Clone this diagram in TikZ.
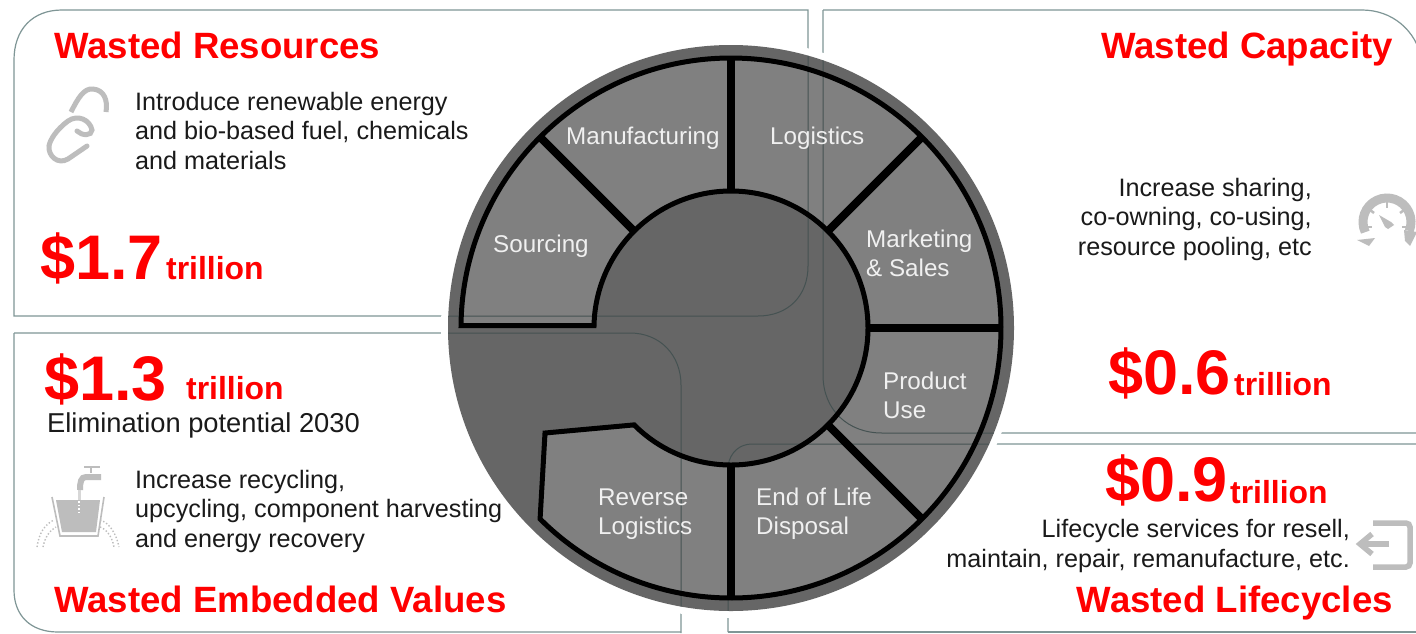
\documentclass[tikz,border=0pt]{standalone}
\usepackage{fontspec}
\setmainfont{Liberation Sans}
\definecolor{panelline}{HTML}{7F9696}
\definecolor{panelinner}{HTML}{455252}
\definecolor{wheeldark}{HTML}{666666}
\definecolor{wheelseg}{HTML}{808080}
\definecolor{icongray}{HTML}{BDBDBD}
\definecolor{headred}{HTML}{FF0000}
\definecolor{bodyink}{HTML}{1A1A1A}
\newcommand{\fsz}[2]{\fontsize{#1pt}{#2pt}\selectfont}
\newcommand{\panelpaths}[1]{%
\draw[#1] (14,316) -- (14,60) .. controls (14,30) and (32,10) .. (62,10) -- (808,10) -- (808,266) .. controls (808,296) and (788,316) .. (758,316) -- cycle;
\draw[#1] (823,10) -- (1362,10) .. controls (1392,10) and (1416,30) .. (1422,60);
\draw[#1] (823,10) -- (823,375) .. controls (823,410) and (848,433) .. (882,433) -- (1416,433);
\draw[#1] (14,333) -- (630,333) .. controls (660,333) and (681,355) .. (681,385) -- (681,633);
\draw[#1] (14,333) -- (14,590) .. controls (14,615) and (30,632) .. (58,632) -- (681,632);
\draw[#1] (728,632) -- (728,466) .. controls (730,452) and (740,444) .. (752,444) -- (1416,444);
\draw[#1] (728,632) -- (1416,632);
}
\tikzset{
 panel/.style={draw=panelline,line width=1.2pt},
 panelin/.style={draw=panelinner,line width=1pt},
 head/.style={inner sep=0,text=headred,font=\fsz{36.6}{40}\bfseries},
 amount/.style={inner sep=0,text=headred,font=\fsz{63}{66}\bfseries},
 unitword/.style={inner sep=0,text=headred,font=\fsz{31.9}{34}\bfseries},
 body/.style={inner sep=0,text=bodyink,font=\fsz{25.2}{29.5}},
 seglabel/.style={inner sep=0,text=white!94!black,font=\fsz{24.2}{28.5},align=left,anchor=base west},
 spoke/.style={draw=black,line width=8pt},
 icon/.style={draw=icongray,line width=5pt}
}
\begin{document}
\begin{tikzpicture}[x=1pt,y=-1pt]
\useasboundingbox (0,0) rectangle (1416,633);
\clip (0,0) rectangle (1416,633);
\fill[white] (0,0) rectangle (1416,633);
\panelpaths{panel}
% wheel fill
\begin{scope}[shift={(731,328)},yscale=-1]
\fill[white] (0,0) circle[radius=290];
\fill[wheeldark] (0,0) circle[radius=283];
\path[fill=wheelseg]
  (179.5:270) arc[start angle=179.5,end angle=-135,radius=270]
  -- (-186,-105) -- (225:137)
  arc[start angle=-135,end angle=179,radius=137] -- cycle;
\end{scope}
% panel lines seen through the wheel
\begin{scope}
\clip (731,328) circle[radius=283];
\panelpaths{panelin}
\end{scope}
% wheel strokes
\begin{scope}[shift={(731,328)},yscale=-1]
\path[draw=black,line width=5pt,miter limit=6]
  (179.5:270) arc[start angle=179.5,end angle=-135,radius=270]
  -- (-186,-105) -- (225:137)
  arc[start angle=-135,end angle=179,radius=137] -- cycle;
\foreach \a in {135,90,45,0,-45,-90}
  \draw[spoke] (\a:137) -- (\a:270);
\end{scope}
% wheel labels
\node[seglabel] (manu) at (566,144) {Manufacturing};
\node[seglabel] (logi) at (770,144) {Logistics};
\node[seglabel] (sour) at (493,252) {Sourcing};
\node[seglabel] (mark) at (866,276) {Marketing\\\& Sales};
\node[seglabel] (prod) at (883,418) {Product\\Use};
\node[seglabel] (eol) at (756,534) {End of Life\\Disposal};
\node[seglabel] (rev) at (598,534) {Reverse\\Logistics};
% headings
\node[head,anchor=base west] (h1) at (54,58) {Wasted Resources};
\node[head,anchor=base east] (h2) at (1393,58) {Wasted Capacity};
\node[head,anchor=base west] (h3) at (54,612) {Wasted Embedded Values};
\node[head,anchor=base east] (h4) at (1393,612) {Wasted Lifecycles};
% amounts
\node[amount,anchor=base west] (a1) at (40,279) {\$1.7};
\node[unitword,anchor=base west] (u1) at (166,279) {trillion};
\node[amount,anchor=base west] (a2) at (44,400) {\$1.3};
\node[unitword,anchor=base west] (u2) at (186,399) {trillion};
\node[amount,anchor=base west] (a3) at (1108,394) {\$0.6};
\node[unitword,anchor=base west] (u3) at (1234,395) {trillion};
\node[amount,anchor=base west] (a4) at (1105,501) {\$0.9};
\node[unitword,anchor=base west] (u4) at (1230,503) {trillion};
% body
\node[body,align=left,anchor=base west] (t1) at (135,169) {Introduce renewable energy\\and bio-based fuel, chemicals\\and materials};
\node[body,align=right,anchor=base east] (t2) at (1312,255) {Increase sharing,\\co-owning, co-using,\\resource pooling, etc};
\node[body,anchor=base west,font=\fsz{27.3}{30}] (t3) at (47,432) {Elimination potential 2030};
\node[body,align=left,anchor=base west] (t4) at (135,547) {Increase recycling,\\upcycling, component harvesting\\and energy recovery};
\node[body,align=right,anchor=base east] (t5) at (1350,567) {Lifecycle services for resell,\\maintain, repair, remanufacture, etc.};
% chain icon
\draw[icon,line cap=butt] (71,112) .. controls (78,98) and (84,88) .. (93,89) .. controls (104,90) and (108,100) .. (106,112);
\draw[icon,line cap=round] (87,146) -- (68,159) .. controls (58,165) and (48,156) .. (49,146) .. controls (50,140) and (56,130) .. (68,121) .. controls (78,114) and (90,120) .. (92,130) .. controls (92,136) and (82,136) .. (77,131);
% faucet icon
\fill[icongray] (56,500) -- (62,532) -- (96,532) -- (100,500) -- cycle;
\draw[icongray,line width=1.6pt] (52,497) -- (60,536) -- (98,536) -- (104,497);
\draw[icongray,line width=2.5pt] (84,467) -- (100,467);
\draw[icongray,line width=2.5pt] (91,467) -- (91,473);
\draw[icongray,line width=6pt] (101,477) -- (86,477) .. controls (81,477) and (80,482) .. (80,490);
\draw[icongray!60,line width=3pt] (79,490) -- (79,500);
\draw[white,line width=2pt,dash pattern=on 1.5pt off 2pt] (79,501) -- (79,513);
\draw[icongray,line width=1.4pt,dotted] (37,547) .. controls (39,533) and (45,524) .. (54,520);
\draw[icongray,line width=1.4pt,dotted] (43,547) .. controls (45,537) and (50,530) .. (56,527);
\draw[icongray,line width=1.4pt,dotted] (100,520) .. controls (108,522) and (116,532) .. (119,547);
\draw[icongray,line width=1.4pt,dotted] (100,527) .. controls (106,529) and (112,536) .. (114,547);
% gauge icon
\begin{scope}[shift={(1387,222)},yscale=-1]
\draw[icon,line width=9pt] (205:24) arc[start angle=205,end angle=-22,radius=24];
\fill[icongray] (-30,-18) -- (-12,-16) -- (-18,-24) -- cycle;
\fill[icongray] (17,-8) -- (30,-10) -- (23,-24) -- (18,-19) -- cycle;
\fill[icongray] (-8,7) -- (4,0) -- (7,-3) -- (1,-7) -- (-2,-5) -- cycle;
\draw[icongray,line width=2.5pt] (0,21) -- (0,14);
\draw[icongray,line width=2.5pt] (-17,12) -- (-13,9);
\draw[icongray,line width=2.5pt] (17,12) -- (13,9);
\draw[icongray,line width=2.5pt] (-21,-5) -- (-15,-5);
\draw[icongray,line width=2.5pt] (21,-5) -- (15,-5);
\end{scope}
% exit icon
\draw[icongray,line width=5.5pt,rounded corners=4pt] (1373,523) -- (1410,523) -- (1410,567) -- (1373,567);
\draw[icongray,line width=5.5pt] (1389,544) -- (1362,544);
\draw[icongray,line width=5.5pt] (1372,534) -- (1360,544) -- (1372,554);
\end{tikzpicture}
\end{document}
